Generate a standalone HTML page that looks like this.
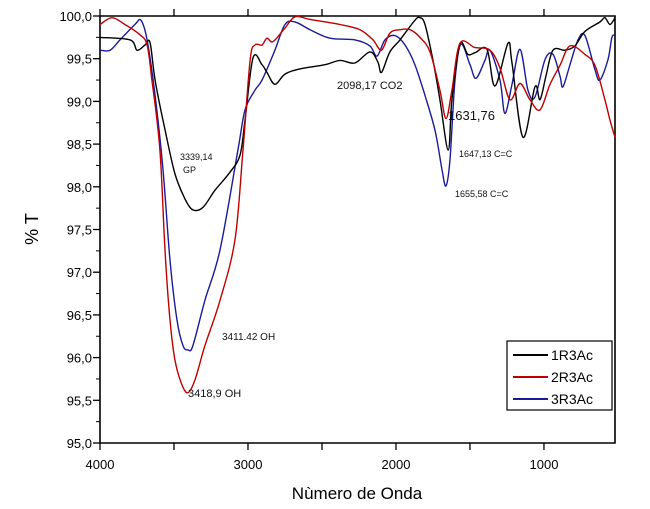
<!DOCTYPE html>
<html><head><meta charset="utf-8"><style>
body{margin:0;background:#fff;}
svg{display:block;font-family:"Liberation Sans",Arial,sans-serif;}
</style></head><body>
<svg id="chart" width="650" height="509" viewBox="0 0 650 509" xmlns="http://www.w3.org/2000/svg">
<g id="axes"></g>
<g id="series"></g>
<g fill="#111">
<text x="180" y="160" font-size="9">3339,14</text>
<text x="183" y="173" font-size="9">GP</text>
<text x="337" y="89" font-size="11">2098,17  CO2</text>
<text x="448" y="120" font-size="13">1631,76</text>
<text x="459" y="157" font-size="9">1647,13  C=C</text>
<text x="455" y="197" font-size="9">1655,58 C=C</text>
<text x="222" y="340" font-size="10">3411.42  OH</text>
<text x="188" y="397" font-size="11">3418,9  OH</text>
</g>
<text x="0" y="0" font-size="18" transform="translate(38,229) rotate(-90)" text-anchor="middle">% T</text>
<text x="357" y="499" font-size="17" text-anchor="middle">Nùmero de Onda</text>
<g>
<rect x="507" y="341" width="105" height="69" fill="#fff" stroke="#000" stroke-width="1.2"/>
<line x1="513" y1="355" x2="548" y2="355" stroke="#000" stroke-width="2"/>
<text x="551" y="360" font-size="14">1R3Ac</text>
<line x1="513" y1="377" x2="548" y2="377" stroke="#c00000" stroke-width="2"/>
<text x="551" y="382" font-size="14">2R3Ac</text>
<line x1="513" y1="399" x2="548" y2="399" stroke="#1a1a9a" stroke-width="2"/>
<text x="551" y="404" font-size="14">3R3Ac</text>
</g>
</svg>
<script>
const xTicks=[4000,3000,2000,1000];
const yTicks=[95,95.5,96,96.5,97,97.5,98,98.5,99,99.5,100];
const seriesNames=["1R3Ac","2R3Ac","3R3Ac"];
const wn1=[4000,3797,3750,3696,3662,3628,3561,3493,3426,3372,3304,3223,3122,3054,3020,2966,2905,2872,2818,2750,2649,2480,2378,2277,2176,2122,2098,2041,1973,1872,1838,1804,1750,1703,1647,1622,1568,1514,1466,1385,1331,1243,1216,1142,1061,1027,986,939,858,791,723,622,588,554,520];
const t1=[99.75,99.72,99.6,99.66,99.69,99.25,98.67,98.15,97.86,97.73,97.76,97.96,98.17,98.37,98.78,99.51,99.43,99.34,99.2,99.32,99.38,99.43,99.48,99.45,99.58,99.46,99.34,99.58,99.72,99.95,99.98,99.9,99.48,99.02,98.43,99.02,99.67,99.55,99.57,99.61,99.18,99.68,99.45,98.58,99.17,99.02,99.3,99.6,99.6,99.65,99.82,99.93,99.98,99.9,99.98];
const wn2=[4000,3919,3831,3730,3682,3649,3595,3561,3527,3493,3446,3405,3358,3291,3189,3088,3034,2986,2953,2905,2872,2831,2750,2682,2581,2378,2243,2155,2098,2041,1973,1905,1838,1770,1703,1662,1622,1568,1466,1365,1297,1230,1162,1095,1027,959,892,824,723,655,588,554,520];
const t2=[99.9,99.98,99.9,99.78,99.66,99.25,98.43,97.26,96.44,95.97,95.68,95.59,95.74,96.14,96.67,97.38,98.43,99.48,99.66,99.66,99.74,99.7,99.86,99.99,99.96,99.9,99.84,99.72,99.6,99.8,99.84,99.84,99.75,99.58,99.13,98.8,99.13,99.68,99.63,99.6,99.39,99.02,99.21,99.02,98.9,99.2,99.42,99.65,99.55,99.42,99.02,98.78,98.58];
const wn3=[4000,3932,3865,3764,3723,3682,3628,3574,3527,3480,3439,3405,3372,3291,3189,3068,3020,2953,2905,2818,2750,2682,2581,2446,2277,2176,2128,2074,2007,1939,1872,1804,1736,1689,1662,1635,1601,1561,1500,1459,1399,1365,1297,1264,1216,1162,1108,1061,993,939,892,872,824,770,723,655,622,567,541,520];
const t3=[99.6,99.6,99.72,99.9,99.95,99.72,99.07,98.2,97.14,96.44,96.14,96.09,96.14,96.67,97.26,98.43,98.9,99.13,99.25,99.6,99.9,99.93,99.84,99.74,99.72,99.65,99.53,99.72,99.77,99.66,99.43,99.07,98.66,98.2,98.01,98.32,99.25,99.67,99.43,99.27,99.48,99.6,99.25,98.86,99.2,99.61,99.13,99.05,99.49,99.55,99.3,99.17,99.43,99.72,99.77,99.37,99.25,99.49,99.75,99.77];
const NS="http://www.w3.org/2000/svg";
const X0=100,X1=615,WN0=4000,WN1=520,Y0=16,Y1=443;
function sx(w){return X0+(WN0-w)*(X1-X0)/(WN0-WN1);}
function sy(t){return Y1-(t-95)*(Y1-Y0)/5;}
function mk(tag,attrs,parent){const e=document.createElementNS(NS,tag);for(const k in attrs)e.setAttribute(k,attrs[k]);parent.appendChild(e);return e;}
const ax=document.getElementById('axes');
const frame=mk('path',{d:`M${X0} ${Y0}V${Y1}H${X1}V${Y0}Z`,fill:'none',stroke:'#000','stroke-width':1.6},ax);


yTicks.forEach((v,i)=>{
 const y=sy(v);
 const tk=mk('line',{x1:X0-7,x2:X0,y1:y,y2:y,stroke:'#000','stroke-width':1.3},ax);
 
 
 if(i<yTicks.length-1){const m=sy(v+0.25);const mt=mk('line',{x1:X0-4,x2:X0,y1:m,y2:m,stroke:'#000','stroke-width':1},ax);
  
  }
 const tx=mk('text',{x:X0-8,y:y+5,'font-size':13,'text-anchor':'end'},ax);
 
 
 tx.textContent=v.toFixed(1).replace('.',',');
});
for(let w=4000;w>=WN1;w-=500){
 const x=sx(w);
 const b=mk('line',{x1:x,x2:x,y1:Y1,y2:Y1+7,stroke:'#000','stroke-width':1.3},ax);
 
 
 const t=mk('line',{x1:x,x2:x,y1:Y0-7,y2:Y0,stroke:'#000','stroke-width':1.3},ax);
 
 
}
xTicks.forEach(w=>{
 const tx=mk('text',{x:sx(w),y:Y1+26,'font-size':13,'text-anchor':'middle'},ax);
 
 
 tx.textContent=w;
});
function smooth(pts){
 let d=`M${pts[0][0].toFixed(1)} ${pts[0][1].toFixed(1)}`;
 for(let i=0;i<pts.length-1;i++){
  const p0=pts[i-1]||pts[i],p1=pts[i],p2=pts[i+1],p3=pts[i+2]||p2;
  const c1=[p1[0]+(p2[0]-p0[0])/6,p1[1]+(p2[1]-p0[1])/6];
  const c2=[p2[0]-(p3[0]-p1[0])/6,p2[1]-(p3[1]-p1[1])/6];
  d+=`C${c1[0].toFixed(1)} ${c1[1].toFixed(1)} ${c2[0].toFixed(1)} ${c2[1].toFixed(1)} ${p2[0].toFixed(1)} ${p2[1].toFixed(1)}`;
 }
 return d;
}
const sg=document.getElementById('series');
const defs=[[wn3,t3,'#1a1a9a','series-3r3ac'],[wn1,t1,'#000','series-1r3ac'],[wn2,t2,'#c00000','series-2r3ac']];
defs.forEach(([w,t,c,n])=>{
 const pts=w.map((v,i)=>[sx(v),sy(t[i])]);
 const p=mk('path',{d:smooth(pts),fill:'none',stroke:c,'stroke-width':1.4},sg);
 
 
});
</script>
</body></html>
